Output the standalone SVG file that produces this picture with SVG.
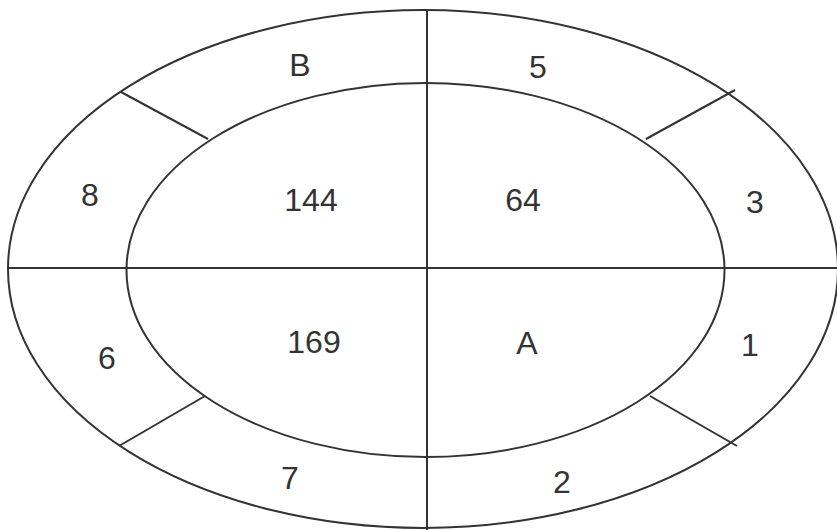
<svg xmlns="http://www.w3.org/2000/svg" width="837" height="530" viewBox="0 0 837 530">
<style>
.s{fill:none;stroke:#333;stroke-width:2}
text{font-family:"Liberation Sans",Arial,sans-serif;font-size:32px;fill:#333;text-anchor:middle}
</style>
<rect width="837" height="530" fill="#fff"/>
<g id="outer"><ellipse class="s" cx="423" cy="269" rx="415" ry="259"/></g>
<g id="inner"><ellipse class="s" cx="425.5" cy="270" rx="299" ry="187"/></g>
<g id="connectors">
<line class="s" x1="427" y1="10" x2="427" y2="530"/>
<line class="s" x1="8" y1="268" x2="837" y2="268"/>
<line class="s" x1="121" y1="92" x2="208" y2="139"/>
<line class="s" x1="735" y1="90" x2="646" y2="139"/>
<line class="s" x1="119" y1="446" x2="205" y2="396"/>
<line class="s" x1="650" y1="396" x2="737" y2="446"/>
</g>
<g id="labels">
<text x="300" y="76">B</text>
<text x="538" y="78">5</text>
<text x="90" y="206">8</text>
<text x="311" y="211">144</text>
<text x="523" y="211">64</text>
<text x="755" y="213">3</text>
<text x="107" y="369">6</text>
<text x="314" y="353">169</text>
<text x="527" y="354">A</text>
<text x="750" y="356">1</text>
<text x="290" y="489">7</text>
<text x="562" y="493">2</text>
</g>
</svg>
